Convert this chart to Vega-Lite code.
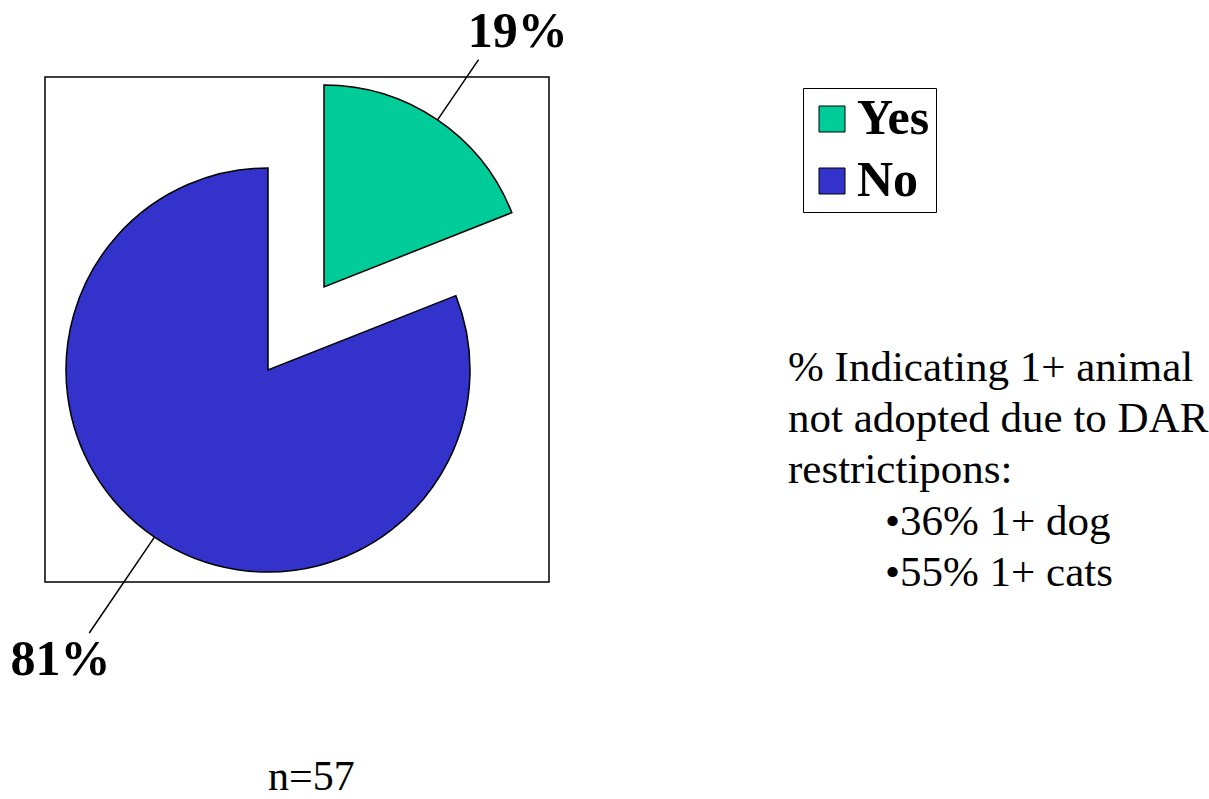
{
  "$schema": "https://vega.github.io/schema/vega-lite/v6.json",
  "width": 504,
  "height": 505,
  "autosize": "none",
  "padding": {"left": 45, "top": 77, "right": 660, "bottom": 217},
  "background": "white",
  "data": {"values": [
    {"answer": "Yes", "share": 0.19},
    {"answer": "No", "share": 0.81}
  ]},
  "transform": [
    {"stack": "share", "groupby": [], "sort": [{"field": "answer", "order": "descending"}], "as": ["s0", "s1"]},
    {"calculate": "(datum.s0 + datum.s1) / 2", "as": "smid"}
  ],
  "layer": [
    {
      "mark": {"type": "arc", "radius": 202, "stroke": "black", "strokeWidth": 1.5},
      "encoding": {
        "x": {"field": "answer", "type": "nominal", "scale": {"type": "point", "domain": ["No", "Yes"], "range": [223, 279], "padding": 0}, "axis": null},
        "y": {"field": "answer", "type": "nominal", "scale": {"type": "point", "domain": ["No", "Yes"], "range": [293, 210], "padding": 0}, "axis": null},
        "theta": {"field": "s0", "type": "quantitative", "scale": {"type": "linear", "domain": [0, 1], "range": [0, 6.283185307179586]}},
        "theta2": {"field": "s1"},
        "color": {"field": "answer", "type": "nominal", "scale": {"domain": ["Yes", "No"], "range": ["#00CC99", "#3333CC"]},
          "legend": {"orient": "none", "legendX": 758, "legendY": 11, "title": null, "symbolType": "square", "symbolSize": 676, "symbolStrokeColor": "black", "symbolStrokeWidth": 1, "symbolOpacity": 1, "symbolOffset": -2, "labelFont": "Liberation Serif", "labelFontSize": 50, "labelFontWeight": "bold", "labelColor": "black", "labelOffset": 0, "rowPadding": 12, "padding": 6, "strokeColor": "black", "fillColor": "white"}}
      }
    },
    {
      "transform": [{"filter": "datum.answer == 'Yes'"}],
      "mark": {"type": "arc", "radius": 275, "radius2": 202, "stroke": "black", "strokeWidth": 1.5, "fill": null},
      "encoding": {
        "x": {"field": "answer", "type": "nominal"},
        "y": {"field": "answer", "type": "nominal"},
        "theta": {"field": "smid", "type": "quantitative"},
        "theta2": {"field": "smid"}
      }
    },
    {
      "transform": [{"filter": "datum.answer == 'No'"}],
      "mark": {"type": "arc", "radius": 318, "radius2": 202, "stroke": "black", "strokeWidth": 1.5, "fill": null},
      "encoding": {
        "x": {"field": "answer", "type": "nominal"},
        "y": {"field": "answer", "type": "nominal"},
        "theta": {"field": "smid", "type": "quantitative"},
        "theta2": {"field": "smid"}
      }
    },
    {
      "transform": [{"filter": "datum.answer == 'Yes'"}],
      "mark": {"type": "text", "radius": 320, "dx": 14, "dy": 10, "font": "Liberation Serif", "fontSize": 50, "fontWeight": "bold", "align": "center", "baseline": "middle", "color": "black"},
      "encoding": {
        "x": {"field": "answer", "type": "nominal"},
        "y": {"field": "answer", "type": "nominal"},
        "theta": {"field": "smid", "type": "quantitative"},
        "text": {"field": "share", "type": "quantitative", "format": ".0%"}
      }
    },
    {
      "transform": [{"filter": "datum.answer == 'No'"}],
      "mark": {"type": "text", "radius": 355, "dx": -8, "dy": -4, "font": "Liberation Serif", "fontSize": 50, "fontWeight": "bold", "align": "center", "baseline": "middle", "color": "black"},
      "encoding": {
        "x": {"field": "answer", "type": "nominal"},
        "y": {"field": "answer", "type": "nominal"},
        "theta": {"field": "smid", "type": "quantitative"},
        "text": {"field": "share", "type": "quantitative", "format": ".0%"}
      }
    },
    {
      "data": {"values": [{}]},
      "mark": {"type": "text", "text": ["% Indicating 1+ animal", "not adopted due to DAR", "restrictipons:"], "x": 743, "y": 304, "align": "left", "baseline": "alphabetic", "font": "Liberation Serif", "fontSize": 43, "lineHeight": 51, "color": "black"}
    },
    {
      "data": {"values": [{}]},
      "mark": {"type": "text", "text": ["•36% 1+ dog", "•55% 1+ cats"], "x": 840, "y": 458, "align": "left", "baseline": "alphabetic", "font": "Liberation Serif", "fontSize": 43, "lineHeight": 51, "color": "black"}
    },
    {
      "data": {"values": [{}]},
      "mark": {"type": "text", "text": "n=57", "x": 223, "y": 713, "align": "left", "baseline": "alphabetic", "font": "Liberation Serif", "fontSize": 42, "color": "black"}
    }
  ],
  "config": {
    "view": {"stroke": "black", "strokeWidth": 1.5},
    "font": "Liberation Serif"
  }
}
